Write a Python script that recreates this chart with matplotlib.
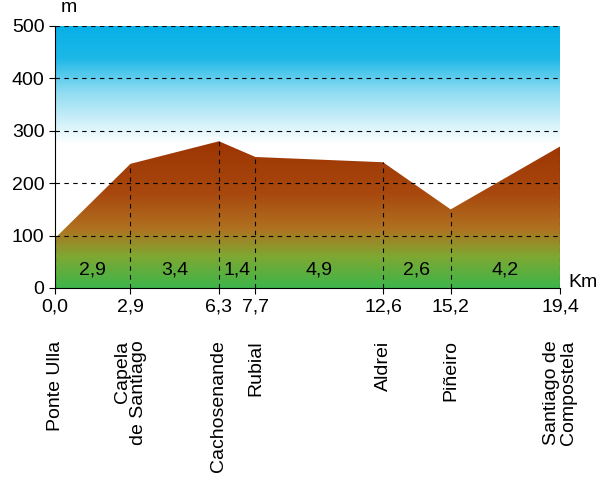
import numpy as np
import matplotlib
matplotlib.use("Agg")
import matplotlib.pyplot as plt
from matplotlib.colors import LinearSegmentedColormap
from matplotlib.patches import Polygon

km = [0.0, 2.9, 6.3, 7.7, 12.6, 15.2, 19.4]
elev = [95, 237, 280, 250, 240, 150, 270]
km_labels = ["0,0", "2,9", "6,3", "7,7", "12,6", "15,2", "19,4"]
places = ["Ponte Ulla", "Capela\nde Santiago", "Cachosenande", "Rubial", "Aldrei", "Piñeiro", "Santiago de\nCompostela"]
seg_mid = [1.45, 4.6, 7.0, 10.15, 13.9, 17.3]
seg_labels = ["2,9", "3,4", "1,4", "4,9", "2,6", "4,2"]

plt.rcParams['font.family'] = ['Liberation Sans', 'DejaVu Sans']
fig = plt.figure(figsize=(6.03, 4.88), dpi=100)
ax = fig.add_axes([55/603, 1-288/488, 505/603, 262/488])
ax.set_xlim(0, 19.4)
ax.set_ylim(0, 500)

sky = LinearSegmentedColormap.from_list("sky", [(0, "white"), (0.55, "white"), (0.75, "#8fdcf2"),
                                                (0.88, "#1cb8e8"), (1, "#08b0e6")])
ax.imshow(np.linspace(0, 1, 256).reshape(-1, 1), origin="lower", extent=[0, 19.4, 0, 500],
          aspect="auto", cmap=sky, zorder=0)
terr = LinearSegmentedColormap.from_list("terr", [(0, "#3db54a"), (0.2, "#7fa832"), (0.38, "#b07020"),
                                                   (0.6, "#a8480e"), (1, "#9a3000")])
im = ax.imshow(np.linspace(0, 1, 256).reshape(-1, 1), origin="lower", extent=[0, 19.4, 0, 300],
               aspect="auto", cmap=terr, zorder=1)
poly = Polygon(list(zip(km, elev)) + [(19.4, 0), (0, 0)], closed=True, facecolor="none", edgecolor="none")
ax.add_patch(poly)
im.set_clip_path(poly)

for y in range(100, 501, 100):
    ax.axhline(y, color="black", ls=(0, (4, 4)), lw=0.8, zorder=2)
for x, e in zip(km, elev):
    ax.plot([x, x], [0, e], color="black", ls=(0, (4, 4)), lw=0.8, zorder=2)
for x, t in zip(seg_mid, seg_labels):
    ax.text(x, 35, t, ha="center", va="center", fontsize=14, zorder=3)

for s in ["top", "right"]:
    ax.spines[s].set_visible(False)
ax.set_yticks(range(0, 501, 100))
ax.set_yticklabels([str(v) for v in range(0, 501, 100)], fontsize=14)
ax.set_xticks(km)
ax.set_xticklabels(km_labels, fontsize=14)
ax.tick_params(length=4)
ax.text(0.2, 535, "m", fontsize=14, ha="left", va="center", clip_on=False)
ax.text(20.3, 10, "Km", fontsize=14, ha="center", va="center", clip_on=False)

for x, p in zip(km, places):
    ax.text(x, -100, p, rotation=90, ha="center", va="top", fontsize=14, multialignment="right",
            linespacing=0.95, clip_on=False)

fig.savefig("out.png", dpi=100)
